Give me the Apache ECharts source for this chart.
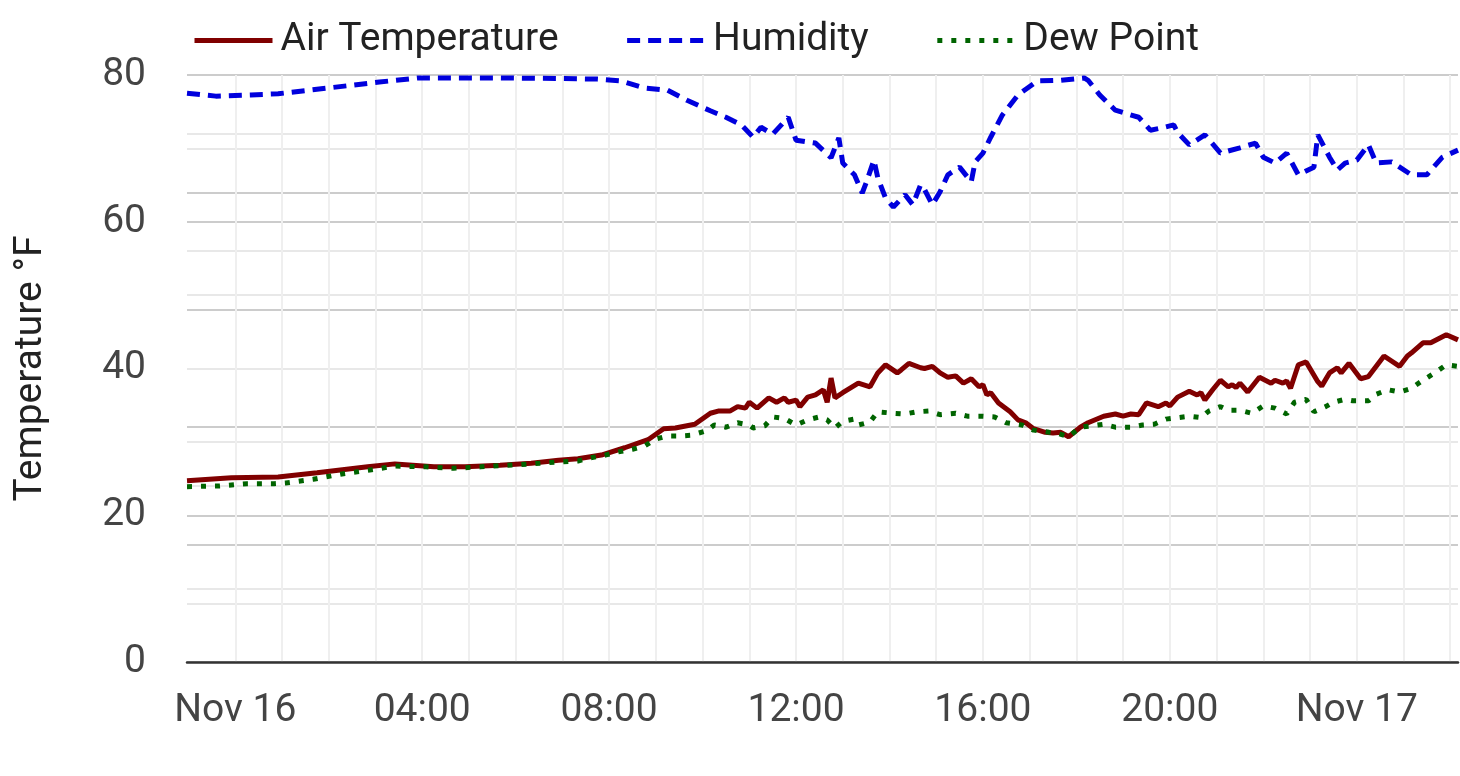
<!DOCTYPE html>
<html>
<head>
<meta charset="utf-8">
<script src="https://cdn.jsdelivr.net/npm/echarts@6/dist/echarts.min.js"></script>
<style>
html,body{margin:0;padding:0;background:#fff;}
#chart{width:1460px;height:776px;}
</style>
</head>
<body>
<div id="chart"></div>
<script>
const seriesNames = ['Air Temperature', 'Humidity', 'Dew Point'];
const yAxisTitle = 'Temperature °F';

const tempTimes = ['2023-11-15 22:58','2023-11-15 23:55','2023-11-16 00:55','2023-11-16 01:45','2023-11-16 02:50','2023-11-16 03:25','2023-11-16 04:15','2023-11-16 04:55','2023-11-16 05:40','2023-11-16 06:20','2023-11-16 06:55','2023-11-16 07:20','2023-11-16 07:50','2023-11-16 08:20','2023-11-16 08:50','2023-11-16 09:10','2023-11-16 09:25','2023-11-16 09:40','2023-11-16 09:50','2023-11-16 10:10','2023-11-16 10:20','2023-11-16 10:35','2023-11-16 10:45','2023-11-16 10:55','2023-11-16 11:00','2023-11-16 11:10','2023-11-16 11:25','2023-11-16 11:35','2023-11-16 11:45','2023-11-16 11:50','2023-11-16 12:00','2023-11-16 12:05','2023-11-16 12:15','2023-11-16 12:25','2023-11-16 12:35','2023-11-16 12:40','2023-11-16 12:45','2023-11-16 12:50','2023-11-16 13:00','2023-11-16 13:20','2023-11-16 13:35','2023-11-16 13:45','2023-11-16 13:55','2023-11-16 14:10','2023-11-16 14:15','2023-11-16 14:25','2023-11-16 14:40','2023-11-16 14:45','2023-11-16 14:55','2023-11-16 15:05','2023-11-16 15:15','2023-11-16 15:25','2023-11-16 15:35','2023-11-16 15:45','2023-11-16 15:55','2023-11-16 16:00','2023-11-16 16:05','2023-11-16 16:10','2023-11-16 16:20','2023-11-16 16:35','2023-11-16 16:45','2023-11-16 16:55','2023-11-16 17:05','2023-11-16 17:20','2023-11-16 17:30','2023-11-16 17:40','2023-11-16 17:50','2023-11-16 18:05','2023-11-16 18:15','2023-11-16 18:35','2023-11-16 18:50','2023-11-16 19:00','2023-11-16 19:10','2023-11-16 19:20','2023-11-16 19:30','2023-11-16 19:45','2023-11-16 19:55','2023-11-16 20:00','2023-11-16 20:10','2023-11-16 20:25','2023-11-16 20:35','2023-11-16 20:40','2023-11-16 20:45','2023-11-16 20:55','2023-11-16 21:05','2023-11-16 21:15','2023-11-16 21:20','2023-11-16 21:25','2023-11-16 21:30','2023-11-16 21:40','2023-11-16 21:55','2023-11-16 22:10','2023-11-16 22:15','2023-11-16 22:25','2023-11-16 22:30','2023-11-16 22:35','2023-11-16 22:45','2023-11-16 22:55','2023-11-16 23:10','2023-11-16 23:15','2023-11-16 23:25','2023-11-16 23:35','2023-11-16 23:40','2023-11-16 23:50','2023-11-17 00:05','2023-11-17 00:15','2023-11-17 00:35','2023-11-17 00:55','2023-11-17 01:05','2023-11-17 01:10','2023-11-17 01:25','2023-11-17 01:35','2023-11-17 01:55','2023-11-17 02:10'];
const tempValues = [24.7,25.1,25.2,25.8,26.6,27.0,26.6,26.6,26.8,27.1,27.5,27.7,28.2,29.2,30.3,31.8,31.9,32.2,32.4,33.9,34.2,34.2,34.8,34.6,35.4,34.6,36.0,35.4,36.0,35.4,35.7,34.8,36.1,36.4,37.1,35.4,38.7,36.0,36.7,38.0,37.5,39.4,40.5,39.4,39.8,40.7,40.1,40.0,40.3,39.4,38.8,39.0,38.0,38.6,37.5,37.8,36.4,36.7,35.3,34.1,33.0,32.6,31.8,31.3,31.2,31.3,30.7,32.0,32.6,33.5,33.8,33.5,33.8,33.7,35.3,34.8,35.3,34.9,36.1,36.9,36.4,36.7,35.7,37.1,38.4,37.5,37.8,37.4,38.0,36.8,38.8,38.0,38.4,38.0,38.3,37.3,40.5,40.9,38.2,37.6,39.4,40.1,39.4,40.7,38.6,38.9,41.7,40.3,41.7,42.1,43.5,43.5,44.6,43.9];

const humTimes = ['2023-11-15 22:58','2023-11-15 23:35','2023-11-16 00:20','2023-11-16 00:55','2023-11-16 02:00','2023-11-16 03:05','2023-11-16 03:55','2023-11-16 05:40','2023-11-16 06:55','2023-11-16 07:45','2023-11-16 08:15','2023-11-16 08:45','2023-11-16 09:15','2023-11-16 09:40','2023-11-16 10:10','2023-11-16 10:30','2023-11-16 10:50','2023-11-16 11:05','2023-11-16 11:15','2023-11-16 11:30','2023-11-16 11:50','2023-11-16 12:00','2023-11-16 12:25','2023-11-16 12:45','2023-11-16 12:55','2023-11-16 13:00','2023-11-16 13:15','2023-11-16 13:25','2023-11-16 13:30','2023-11-16 13:40','2023-11-16 13:45','2023-11-16 13:55','2023-11-16 14:05','2023-11-16 14:20','2023-11-16 14:30','2023-11-16 14:40','2023-11-16 14:45','2023-11-16 14:55','2023-11-16 15:05','2023-11-16 15:15','2023-11-16 15:30','2023-11-16 15:45','2023-11-16 15:50','2023-11-16 16:00','2023-11-16 16:10','2023-11-16 16:25','2023-11-16 16:45','2023-11-16 17:10','2023-11-16 17:40','2023-11-16 18:10','2023-11-16 18:15','2023-11-16 18:30','2023-11-16 18:50','2023-11-16 19:20','2023-11-16 19:35','2023-11-16 19:50','2023-11-16 20:05','2023-11-16 20:10','2023-11-16 20:25','2023-11-16 20:45','2023-11-16 21:05','2023-11-16 21:30','2023-11-16 21:50','2023-11-16 22:00','2023-11-16 22:15','2023-11-16 22:30','2023-11-16 22:45','2023-11-16 23:05','2023-11-16 23:10','2023-11-16 23:25','2023-11-16 23:35','2023-11-16 23:45','2023-11-17 00:00','2023-11-17 00:15','2023-11-17 00:25','2023-11-17 00:45','2023-11-17 01:10','2023-11-17 01:30','2023-11-17 01:50','2023-11-17 02:10'];
const humValues = [96.9,96.4,96.6,96.8,97.8,98.8,99.5,99.5,99.4,99.3,99.0,97.8,97.4,95.7,93.9,92.8,91.5,89.4,91.1,89.9,92.8,88.9,88.4,85.9,89.3,85.0,83.0,79.9,81.6,85.5,82.5,79.0,77.5,79.6,77.9,81.3,80.5,77.9,80.1,83.0,84.3,81.8,85.2,86.7,89.4,93.2,96.6,99.0,99.1,99.5,99.1,96.6,94.0,92.8,90.6,91.0,91.5,90.2,88.1,89.8,86.7,87.6,88.4,86.0,85.0,86.7,83.0,84.3,89.8,86.0,83.8,85.0,85.5,88.1,85.0,85.2,83.0,83.0,86.0,87.2];

const dewTimes = ['2023-11-15 22:58','2023-11-15 23:40','2023-11-16 00:15','2023-11-16 00:50','2023-11-16 01:05','2023-11-16 01:40','2023-11-16 02:15','2023-11-16 02:55','2023-11-16 03:25','2023-11-16 04:05','2023-11-16 04:40','2023-11-16 05:15','2023-11-16 06:05','2023-11-16 07:00','2023-11-16 07:20','2023-11-16 07:35','2023-11-16 07:55','2023-11-16 08:10','2023-11-16 08:30','2023-11-16 08:45','2023-11-16 09:00','2023-11-16 09:15','2023-11-16 09:30','2023-11-16 09:45','2023-11-16 10:05','2023-11-16 10:15','2023-11-16 10:30','2023-11-16 10:45','2023-11-16 11:00','2023-11-16 11:05','2023-11-16 11:20','2023-11-16 11:30','2023-11-16 11:45','2023-11-16 12:00','2023-11-16 12:15','2023-11-16 12:30','2023-11-16 12:40','2023-11-16 12:50','2023-11-16 13:00','2023-11-16 13:15','2023-11-16 13:20','2023-11-16 13:35','2023-11-16 13:45','2023-11-16 14:05','2023-11-16 14:20','2023-11-16 14:35','2023-11-16 14:50','2023-11-16 15:05','2023-11-16 15:25','2023-11-16 15:40','2023-11-16 16:00','2023-11-16 16:15','2023-11-16 16:30','2023-11-16 16:50','2023-11-16 17:05','2023-11-16 17:25','2023-11-16 17:35','2023-11-16 17:50','2023-11-16 18:05','2023-11-16 18:20','2023-11-16 18:35','2023-11-16 18:50','2023-11-16 19:10','2023-11-16 19:25','2023-11-16 19:40','2023-11-16 19:55','2023-11-16 20:10','2023-11-16 20:25','2023-11-16 20:40','2023-11-16 20:50','2023-11-16 21:05','2023-11-16 21:15','2023-11-16 21:30','2023-11-16 21:45','2023-11-16 22:00','2023-11-16 22:15','2023-11-16 22:30','2023-11-16 22:40','2023-11-16 22:55','2023-11-16 23:05','2023-11-16 23:20','2023-11-16 23:30','2023-11-16 23:45','2023-11-16 23:55','2023-11-17 00:15','2023-11-17 00:25','2023-11-17 00:40','2023-11-17 00:55','2023-11-17 01:10','2023-11-17 01:25','2023-11-17 01:40','2023-11-17 01:55','2023-11-17 02:10'];
const dewValues = [23.9,24.0,24.3,24.3,24.4,24.9,25.6,26.2,26.7,26.6,26.4,26.6,26.9,27.3,27.4,27.8,28.2,28.6,29.0,29.4,30.4,30.8,30.8,30.9,31.5,32.3,32.0,32.6,32.3,31.9,32.2,33.4,33.2,32.3,33.0,33.4,33.0,31.9,32.8,33.1,32.3,32.7,34.1,33.9,33.8,34.1,34.2,33.7,33.9,33.5,33.5,33.4,32.6,32.3,31.6,31.3,31.2,30.7,32.0,32.2,32.4,32.0,32.0,32.3,32.4,33.1,33.3,33.5,33.3,34.2,34.8,34.3,34.3,33.9,34.9,34.6,33.8,35.4,35.8,34.1,34.8,35.4,35.8,35.6,35.6,36.5,37.1,36.8,37.3,38.4,39.4,40.5,40.3];

const xMin = '2023-11-15 22:58';
const xMax = '2023-11-17 02:10';
const tempTicks = [0, 20, 40, 60, 80];
const humTicks = [0, 20, 40, 60, 80, 100];
const monthNames = ['Jan','Feb','Mar','Apr','May','Jun','Jul','Aug','Sep','Oct','Nov','Dec'];

function zip(t, v) { return t.map((x, i) => [x, v[i]]); }

const FONT = 'Roboto';
const FS = 39;
const chart = echarts.init(document.getElementById('chart'), null, {renderer: 'canvas'});
const HOUR = 3600 * 1000;

// first vertical split line (at the axis minimum) is transparent, the rest light grey
const vLineColors = ['rgba(0,0,0,0)'].concat(new Array(30).fill('#efefef'));

chart.setOption({
  animation: false,
  textStyle: {fontFamily: FONT},
  legend: {
    left: 187, top: 16,
    itemWidth: 78, itemHeight: 22, itemGap: 66,
    itemStyle: {opacity: 0},
    lineStyle: {width: 5},
    textStyle: {fontSize: FS, color: '#222', fontFamily: FONT, padding: [0, 0, 0, 3]},
    data: seriesNames
  },
  grid: {left: 187, right: 2, top: 75, bottom: 114, containLabel: false},
  xAxis: {
    type: 'time',
    min: xMin, max: xMax,
    minInterval: 2 * HOUR, maxInterval: 2 * HOUR,
    axisLine: {show: true, onZero: false, lineStyle: {color: '#333', width: 2.5}},
    axisTick: {show: false},
    splitLine: {show: true, showMinLine: false, showMaxLine: false, lineStyle: {color: vLineColors, width: 2}},
    axisLabel: {
      fontSize: FS, color: '#444', fontFamily: FONT, margin: 30,
      showMinLabel: false, showMaxLabel: false,
      formatter: function (val) {
        const d = new Date(val);
        const h = d.getHours();
        if (d.getMinutes() !== 0 || h % 4 !== 0) return '';
        if (h === 0) return monthNames[d.getMonth()] + ' ' + d.getDate();
        return (h < 10 ? '0' + h : h) + ':00';
      }
    }
  },
  yAxis: [
    {
      type: 'value', min: tempTicks[0], max: tempTicks[tempTicks.length - 1], interval: 20,
      name: yAxisTitle, nameLocation: 'middle', nameGap: 136,
      nameTextStyle: {fontSize: FS, color: '#222', fontFamily: FONT},
      axisLine: {show: false}, axisTick: {show: false},
      axisLabel: {fontSize: FS, color: '#444', fontFamily: FONT, margin: 41},
      splitLine: {show: true, lineStyle: {color: '#cccccc', width: 2}},
      minorTick: {show: false, splitNumber: 2},
      minorSplitLine: {show: true, lineStyle: {color: '#e8e8e8', width: 2}}
    },
    {
      type: 'value', min: humTicks[0], max: humTicks[humTicks.length - 1], interval: 20,
      position: 'right',
      axisLine: {show: false}, axisTick: {show: false}, axisLabel: {show: false},
      splitLine: {show: true, lineStyle: {color: '#cccccc', width: 2}},
      minorTick: {show: false, splitNumber: 2},
      minorSplitLine: {show: true, lineStyle: {color: '#e8e8e8', width: 2}}
    }
  ],
  series: [
    {
      name: seriesNames[0], type: 'line', yAxisIndex: 0, symbol: 'none', showSymbol: false,
      data: zip(tempTimes, tempValues),
      lineStyle: {color: '#800000', width: 5}, itemStyle: {color: '#800000'}, z: 3
    },
    {
      name: seriesNames[1], type: 'line', yAxisIndex: 1, symbol: 'none', showSymbol: false,
      data: zip(humTimes, humValues),
      lineStyle: {color: '#0000dd', width: 5, type: [13, 8]}, itemStyle: {color: '#0000dd'}, z: 4
    },
    {
      name: seriesNames[2], type: 'line', yAxisIndex: 0, symbol: 'none', showSymbol: false,
      data: zip(dewTimes, dewValues),
      lineStyle: {color: '#006400', width: 5, type: [5, 9]}, itemStyle: {color: '#006400'}, z: 5
    }
  ]
});
</script>
</body>
</html>
